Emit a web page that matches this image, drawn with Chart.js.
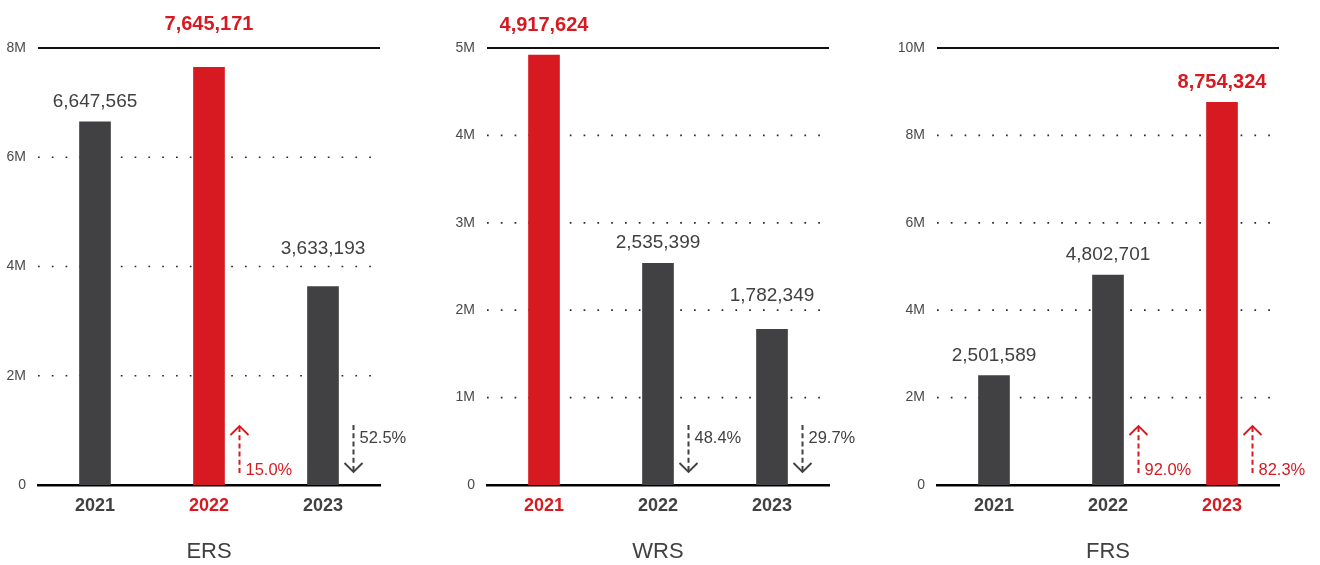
<!DOCTYPE html>
<html>
<head>
<meta charset="utf-8">
<script src="https://cdn.jsdelivr.net/npm/chart.js@4.4.1/dist/chart.umd.min.js"></script>
<style>
  html, body { margin:0; padding:0; background:#fff; overflow:hidden; }
  #wrap { position:relative; width:1320px; height:565px; }
  .cell { position:absolute; top:0; width:421px; height:565px; }
</style>
</head>
<body>
<div id="wrap">
  <div class="cell" style="left:0px"><canvas id="c0" width="421" height="565"></canvas></div>
  <div class="cell" style="left:449px"><canvas id="c1" width="421" height="565"></canvas></div>
  <div class="cell" style="left:899px"><canvas id="c2" width="421" height="565"></canvas></div>
</div>
<script>
// ---- data ----
const categories = ['2021', '2022', '2023'];
const chartTitles = ['ERS', 'WRS', 'FRS'];
const ersValues = [6647565, 7645171, 3633193];
const wrsValues = [4917624, 2535399, 1782349];
const frsValues = [2501589, 4802701, 8754324];
const ersChange = [null, 15.0, -52.5];
const wrsChange = [null, -48.4, -29.7];
const frsChange = [null, 92.0, 82.3];
const highlightIndex = [1, 0, 2];
const axisMax = [8000000, 5000000, 10000000];
const axisStep = [2000000, 1000000, 2000000];

// ---- style ----
const RED = '#D71A21';
const DARK = '#414042';
const TEXT = '#414042';
const FONT = "'Liberation Sans', Arial, Helvetica, sans-serif";
const labelLift = [[15, 37, 33], [24, 15, 28], [15, 15, 14]];

const fmt = v => v.toLocaleString('en-US');

const decoPlugin = {
  id: 'deco',
  beforeDatasetsDraw(chart) {
    const o = chart.options.plugins.deco;
    const ys = chart.scales.y;
    const ca = chart.chartArea;
    const ctx = chart.ctx;
    ctx.save();
    ys.ticks.forEach(t => {
      const y = ys.getPixelForValue(t.value);
      if (t.value === 0) return;
      ctx.beginPath();
      if (t.value === o.max) {
        ctx.setLineDash([]);
        ctx.lineWidth = 2;
        ctx.strokeStyle = '#111';
        ctx.moveTo(ca.left, y);
        ctx.lineTo(ca.right, y);
      } else {
        ctx.setLineDash([1.7, 12.1]);
        ctx.lineWidth = 1.7;
        ctx.strokeStyle = '#2a2a2a';
        ctx.moveTo(ca.left, y);
        ctx.lineTo(ca.right + 3, y);
      }
      ctx.stroke();
    });
    ctx.restore();
  },
  afterDatasetsDraw(chart) {
    const o = chart.options.plugins.deco;
    const ctx = chart.ctx;
    const meta = chart.getDatasetMeta(0);
    const ca = chart.chartArea;
    const values = chart.data.datasets[0].data;
    ctx.save();
    meta.data.forEach((bar, i) => {
      const hi = i === o.highlight;
      // value label
      ctx.textAlign = 'center';
      ctx.textBaseline = 'alphabetic';
      ctx.fillStyle = hi ? RED : TEXT;
      ctx.font = hi ? `bold 20px ${FONT}` : `19px ${FONT}`;
      ctx.fillText(fmt(values[i]), bar.x, bar.y - o.lifts[i]);
      // change arrow
      const ch = o.changes[i];
      if (ch === null || ch === undefined) return;
      const up = ch > 0;
      const col = up ? RED : DARK;
      const x = bar.x + bar.width / 2 + 15;
      const yTop = ca.bottom - 60;
      const yBot = ca.bottom - 12;
      ctx.strokeStyle = col;
      ctx.lineWidth = 2;
      // shaft dashed
      ctx.beginPath();
      ctx.setLineDash([5, 3.2]);
      if (up) { ctx.moveTo(x, yTop + 2); ctx.lineTo(x, yBot); }
      else { ctx.moveTo(x, yTop); ctx.lineTo(x, yBot - 2); }
      ctx.stroke();
      // head
      ctx.setLineDash([]);
      ctx.lineWidth = 1.9;
      ctx.beginPath();
      if (up) {
        ctx.moveTo(x - 9, yTop + 10); ctx.lineTo(x, yTop + 1); ctx.lineTo(x + 9, yTop + 10);
      } else {
        ctx.moveTo(x - 9, yBot - 10); ctx.lineTo(x, yBot - 1); ctx.lineTo(x + 9, yBot - 10);
      }
      ctx.stroke();
      // text
      ctx.fillStyle = col;
      ctx.font = `16.5px ${FONT}`;
      ctx.textAlign = 'left';
      ctx.textBaseline = 'alphabetic';
      ctx.fillText(Math.abs(ch).toFixed(1) + '%', x + 6, up ? yBot + 2 : yTop + 18);
    });
    ctx.restore();
  }
};

function makeChart(id, values, changes, idx) {
  const hiIdx = highlightIndex[idx];
  return new Chart(document.getElementById(id), {
    type: 'bar',
    data: {
      labels: categories,
      datasets: [{
        data: values,
        backgroundColor: values.map((v, i) => i === hiIdx ? RED : DARK),
        barThickness: 31,
        borderWidth: 0
      }]
    },
    options: {
      responsive: false,
      animation: false,
      events: [],
      layout: { padding: { top: 48, right: 41, bottom: 0, left: 0 } },
      plugins: {
        legend: { display: false },
        tooltip: { enabled: false },
        deco: { max: axisMax[idx], highlight: hiIdx, changes: changes, lifts: labelLift[idx] }
      },
      scales: {
        x: {
          offset: true,
          grid: { display: false, drawTicks: false },
          border: { display: true, color: '#000', width: 2.5 },
          ticks: {
            padding: 10.5,
            font: { family: FONT, size: 18, weight: 'bold' },
            color: (c) => c.index === hiIdx ? RED : TEXT
          },
          title: {
            display: true,
            text: chartTitles[idx],
            font: { family: FONT, size: 22 },
            color: TEXT,
            padding: { top: 0, bottom: 0 }
          },
          afterFit: (s) => { s.height = 80; }
        },
        y: {
          min: 0,
          max: axisMax[idx],
          grid: { display: false, drawTicks: false },
          border: { display: false },
          ticks: {
            stepSize: axisStep[idx],
            padding: 12,
            font: { family: FONT, size: 14 },
            color: '#4a4a4a',
            callback: (v) => v === 0 ? '0' : (v / 1000000) + 'M'
          },
          afterFit: (s) => { s.width = 38; }
        }
      }
    },
    plugins: [decoPlugin]
  });
}

makeChart('c0', ersValues, ersChange, 0);
makeChart('c1', wrsValues, wrsChange, 1);
makeChart('c2', frsValues, frsChange, 2);
</script>
</body>
</html>
